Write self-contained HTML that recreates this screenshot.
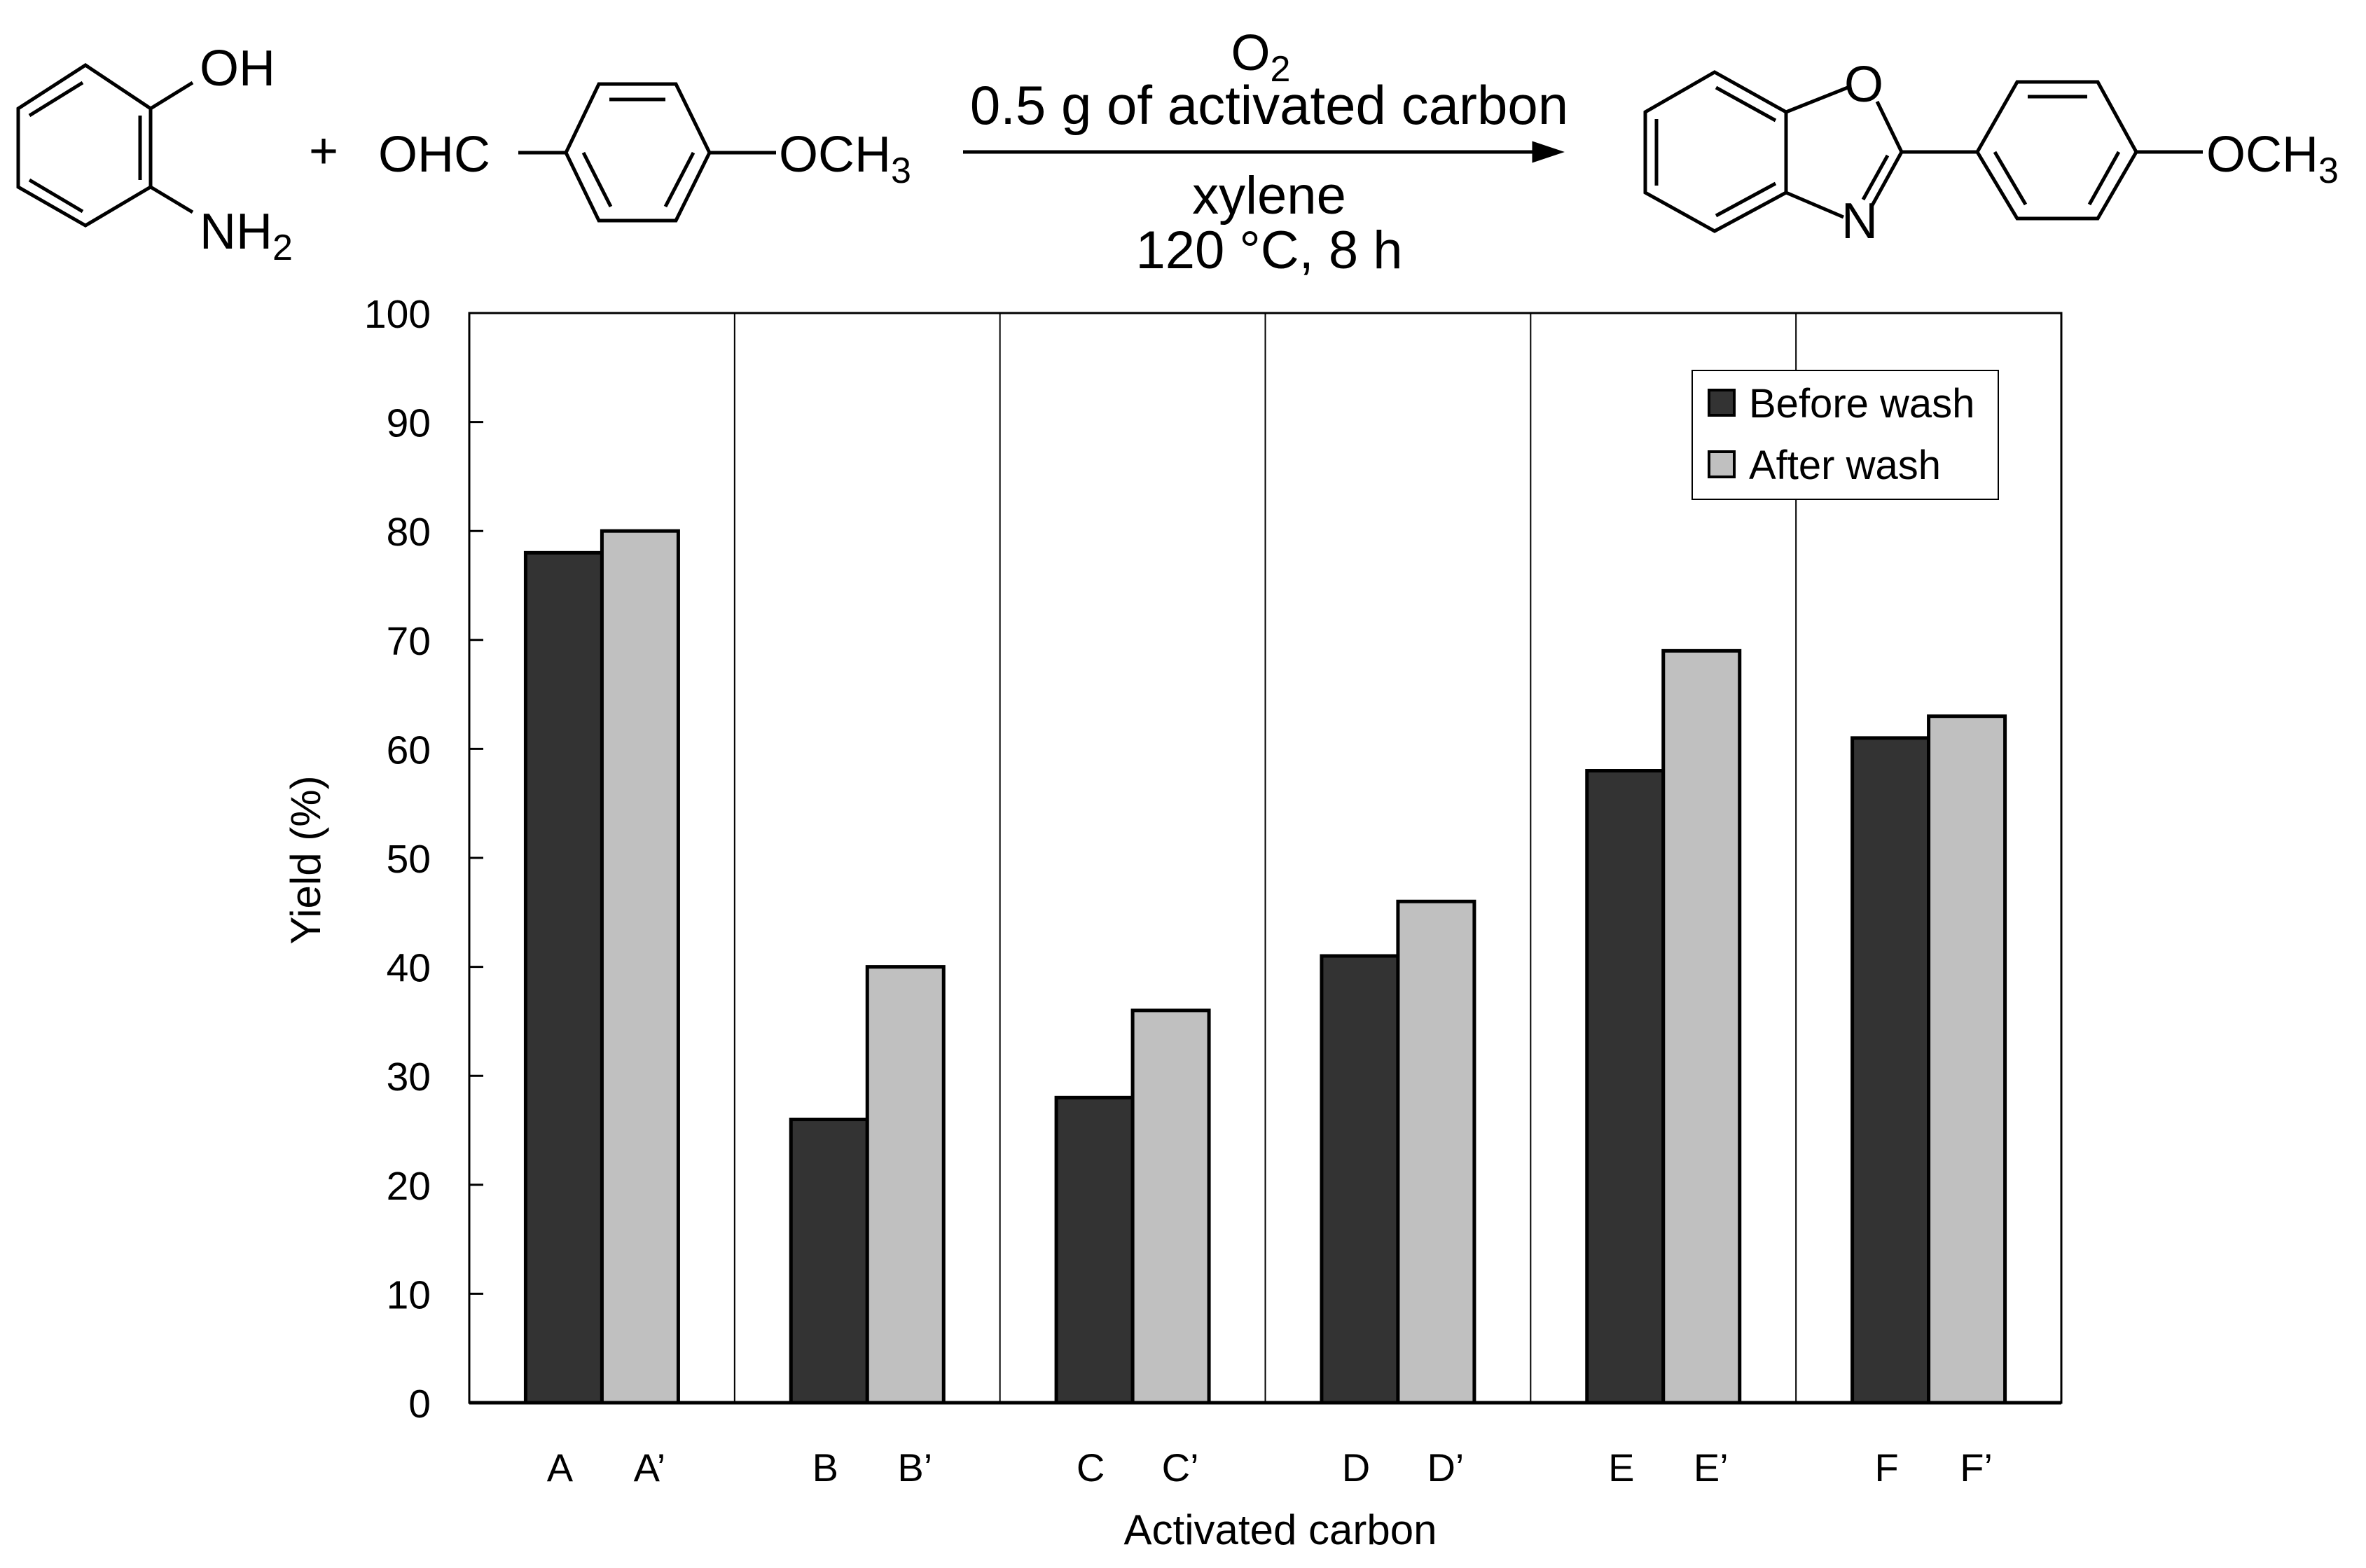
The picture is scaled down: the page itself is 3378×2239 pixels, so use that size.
<!DOCTYPE html>
<html><head><meta charset="utf-8"><style>
html,body{margin:0;padding:0;background:#fff;}
svg{display:block;font-family:"Liberation Sans",Arial,sans-serif;}
</style></head><body>
<svg id="fig" width="3378" height="2239" viewBox="0 0 3378 2239" xmlns="http://www.w3.org/2000/svg">
<g stroke="#000" stroke-width="5" fill="none">
  <g>
    <polygon points="122,93 215,155 215,267 122,322 26,267 26,155"/>
    <line x1="200" y1="165" x2="200" y2="257"/>
    <line x1="42" y1="165" x2="118" y2="118"/>
    <line x1="42" y1="257" x2="118" y2="302"/>
    <line x1="215" y1="155" x2="275" y2="118"/>
    <line x1="215" y1="267" x2="275" y2="303"/>
  </g>
  <g>
    <polygon points="855,120 965,120 1013,218 965,315 855,315 808,218"/>
    <line x1="870" y1="142" x2="950" y2="142"/>
    <line x1="833" y1="218" x2="872" y2="295"/>
    <line x1="990" y1="218" x2="950" y2="295"/>
    <line x1="740" y1="218" x2="808" y2="218"/>
    <line x1="1013" y1="218" x2="1108" y2="218"/>
  </g>
  <g>
    <line x1="1375" y1="217" x2="2200" y2="217"/>
    <polygon points="2226,217 2190,205 2190,229" fill="#000"/>
  </g>
  <g>
    <polygon points="2448,103 2550,160 2550,275 2448,330 2349,275 2349,160"/>
    <line x1="2365" y1="170" x2="2365" y2="265"/>
    <line x1="2450" y1="125" x2="2535" y2="172"/>
    <line x1="2450" y1="308" x2="2535" y2="262"/>
    <line x1="2550" y1="160" x2="2638" y2="125"/>
    <line x1="2680" y1="145" x2="2715" y2="217"/>
    <line x1="2715" y1="217" x2="2672" y2="295"/>
    <line x1="2695" y1="222" x2="2660" y2="285"/>
    <line x1="2550" y1="275" x2="2632" y2="310"/>
    <line x1="2715" y1="217" x2="2823" y2="217"/>
    <polygon points="2880,117 2995,117 3050,217 2995,312 2880,312 2823,217"/>
    <line x1="2895" y1="138" x2="2980" y2="138"/>
    <line x1="2848" y1="217" x2="2892" y2="292"/>
    <line x1="3025" y1="217" x2="2983" y2="292"/>
    <line x1="3050" y1="217" x2="3145" y2="217"/>
  </g>
</g>
<g font-size="72" fill="#000">
  <text x="285" y="122">OH</text>
  <text x="285" y="355">NH<tspan font-size="52" dy="16">2</tspan></text>
  <text x="462" y="240" text-anchor="middle">+</text>
  <text x="540" y="245">OHC</text>
  <text x="1112" y="245">OCH<tspan font-size="52" dy="16">3</tspan></text>
  <text x="1800" y="100" text-anchor="middle">O<tspan font-size="52" dy="16">2</tspan></text>
  <text x="1812" y="177" text-anchor="middle" font-size="78">0.5 g of activated carbon</text>
  <text x="1812" y="305" text-anchor="middle" font-size="76">xylene</text>
  <text x="1812" y="383" text-anchor="middle" font-size="76">120 °C, 8 h</text>
  <text x="2661" y="145" text-anchor="middle">O</text>
  <text x="2655" y="340" text-anchor="middle">N</text>
  <text x="3150" y="245">OCH<tspan font-size="52" dy="16">3</tspan></text>
</g>
<g id="chart"></g>
</svg>
<script>
const categories = ["A","B","C","D","E","F"];
const beforeWash = [78, 26, 28, 41, 58, 61];
const afterWash = [80, 40, 36, 46, 69, 63];
const yTicks = [0,10,20,30,40,50,60,70,80,90,100];
const seriesNames = ["Before wash","After wash"];

const NS = "http://www.w3.org/2000/svg";
const g = document.getElementById("chart");
const L = 670, R = 2952 - 9, T = 447, B = 2003;
const yMax = 100;
const groupW = (R - L) / categories.length;
const barW = 109;
function yScale(v){ return B - (v / yMax) * (B - T); }
function xGroup(i){ return L + groupW * i + groupW / 2; }
function mk(tag, attrs, parent){
  const e = document.createElementNS(NS, tag);
  for (const k in attrs) e.setAttribute(k, attrs[k]);
  (parent || g).appendChild(e);
  return e;
}
for (let i = 1; i < categories.length; i++) {
  const x = L + groupW * i;
  const s = mk("line", {x1:x, y1:T, x2:x, y2:B, stroke:"#000", "stroke-width":2});
  
  
}
categories.forEach((c, i) => {
  const cx = xGroup(i);
  const b1 = mk("rect", {x:cx - barW, y:yScale(beforeWash[i]), width:barW, height:B - yScale(beforeWash[i]), fill:"#333333", stroke:"#000", "stroke-width":5});
  
  
  const b2 = mk("rect", {x:cx, y:yScale(afterWash[i]), width:barW, height:B - yScale(afterWash[i]), fill:"#c0c0c0", stroke:"#000", "stroke-width":5});
  
  
  const t1 = mk("text", {x:cx - 60, y:2115, "text-anchor":"middle", "font-size":56});
  t1.textContent = c;
  
  
  const t2 = mk("text", {x:cx + 68, y:2115, "text-anchor":"middle", "font-size":56});
  t2.textContent = c + "’";
  
  
});
const fr = mk("rect", {x:L, y:T, width:R-L, height:B-T, fill:"none", stroke:"#000", "stroke-width":3});


const xb = mk("line", {x1:L, y1:B, x2:R, y2:B, stroke:"#000", "stroke-width":5});


yTicks.forEach(v => {
  const y = yScale(v);
  const tk = mk("line", {x1:L, y1:y, x2:L + 20, y2:y, stroke:"#000", "stroke-width":3});
  
  
  const tl = mk("text", {x:615, y:y + 21, "text-anchor":"end", "font-size":57});
  tl.textContent = v;
  
  
});
const yt = mk("text", {x:0, y:0, "text-anchor":"middle", "font-size":60, transform:"translate(457,1228) rotate(-90)"});
yt.textContent = "Yield (%)";


const xt = mk("text", {x:1828, y:2205, "text-anchor":"middle", "font-size":60});
xt.textContent = "Activated carbon";


const lg = mk("g", {});


const lb = mk("rect", {x:2416, y:529, width:437, height:184, fill:"#fff", stroke:"#000", "stroke-width":2}, lg);


const fills = ["#333333", "#c0c0c0"];
seriesNames.forEach((n, i) => {
  const y = 575 + i * 88;
  const sw = mk("rect", {x:2440, y:y - 18, width:36, height:36, fill:fills[i], stroke:"#000", "stroke-width":4}, lg);
  
  
  const tx = mk("text", {x:2497, y:y + 21, "font-size":58}, lg);
  tx.textContent = n;
  
  
});
</script>
</body></html>
